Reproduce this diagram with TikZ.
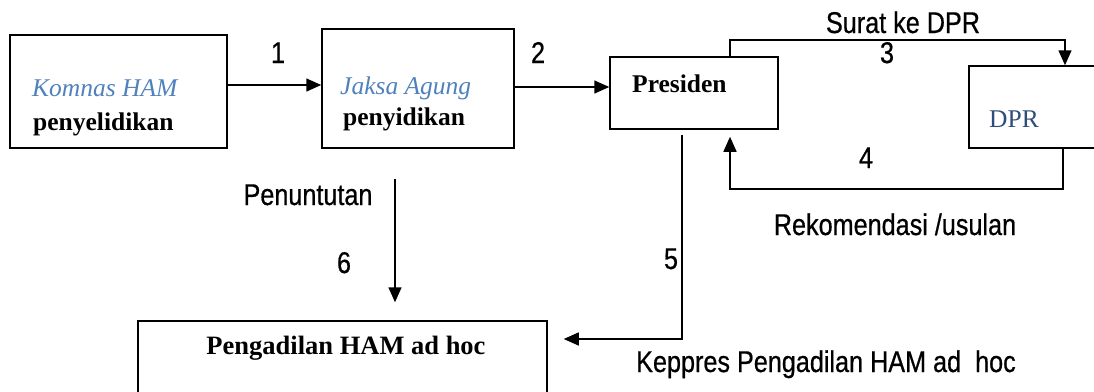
\documentclass[tikz,border=0pt]{standalone}
\usepackage{fontspec}
\setmainfont{Liberation Serif}
\newfontfamily\labfont[FakeStretch=0.84,FakeBold=0.6]{Liberation Sans}
\usetikzlibrary{arrows.meta}
\definecolor{itblue}{HTML}{4F81BD}
\definecolor{dprblue}{HTML}{2E4D7B}
\begin{document}
\begin{tikzpicture}[x=1pt,y=-1pt,
  box/.style={draw, line width=1.5pt, rectangle, inner sep=0pt},
  boxtext/.style={inner sep=0pt, anchor=base west, font=\fontsize{25.5}{30}\selectfont},
  lab/.style={inner sep=0pt, anchor=base, font=\labfont\fontsize{30}{32}\selectfont},
  arr/.style={line width=1.5pt, -{Triangle[length=15pt,width=13pt]}},
  conn/.style={line width=1.5pt}]
\useasboundingbox (0,0) rectangle (1094,391);

% boxes
\node[box, minimum width=217pt, minimum height=113pt] (komnas) at (118.5,91.5) {};
\node[box, minimum width=192pt, minimum height=119pt] (jaksa) at (418,88.5) {};
\node[box, minimum width=168pt, minimum height=72pt] (pres) at (694,93) {};
\node[box, minimum width=161pt, minimum height=82pt] (dpr) at (1049.5,107) {};
\node[box, minimum width=409pt, minimum height=99pt] (peng) at (342.5,370.5) {};

% box texts
\node[boxtext, text=itblue] (tkomnas) at (32,96) {\itshape Komnas HAM};
\node[boxtext] (tpenyel) at (33,130) {\bfseries penyelidikan};
\node[boxtext, text=itblue] (tjaksa) at (340,94) {\itshape Jaksa Agung};
\node[boxtext] (tpenyid) at (343,125) {\bfseries penyidikan};
\node[boxtext] (tpres) at (632,92) {\bfseries Presiden};
\node[boxtext, text=dprblue] (tdpr) at (989,127) {DPR};
\node[boxtext, anchor=base, font=\fontsize{26.5}{30}\selectfont] (tpeng) at (346,354) {\bfseries Pengadilan HAM ad hoc};

% helper coordinates
\coordinate (y1) at (0,85);
\coordinate (y2) at (0,87);
\coordinate (c3l) at (730,40);
\coordinate (c3r) at (1065,40);
\coordinate (c4r) at (1063,189);
\coordinate (c4l) at (730,189);
\coordinate (c5) at (682,339);
\coordinate (c6) at (395,179);

% connectors
\draw[arr] (komnas.east |- y1) -- (jaksa.west |- y1);
\draw[arr] (jaksa.east |- y2) -- (pres.west |- y2);
\draw[arr] (pres.north -| c3l) -- (c3l) -- (c3r) -- (dpr.north -| c3r);
\draw[arr, shorten >=7pt] (dpr.south -| c4r) -- (c4r) -- (c4l) -- (pres.south -| c4l);
\draw[arr, shorten <=5pt, shorten >=16pt] (pres.south -| c5) -- (c5) -- (peng.east |- c5);
\draw[arr, shorten >=18pt] (c6) -- (peng.north -| c6);

% labels
\node[lab] (l1) at (278,63) {1};
\node[lab] (l2) at (538,63) {2};
\node[lab] (lsurat) at (903,33) {Surat ke DPR};
\node[lab] (l3) at (887,63) {3};
\node[lab] (l4) at (866,168) {4};
\node[lab] (lrek) at (895,235) {Rekomendasi /usulan};
\node[lab] (l5) at (671,269) {5};
\node[lab] (lkep) at (826,372) {Keppres Pengadilan HAM ad\ \ hoc};
\node[lab] (lpen) at (308,205) {Penuntutan};
\node[lab] (l6) at (344,273) {6};
\end{tikzpicture}
\end{document}
